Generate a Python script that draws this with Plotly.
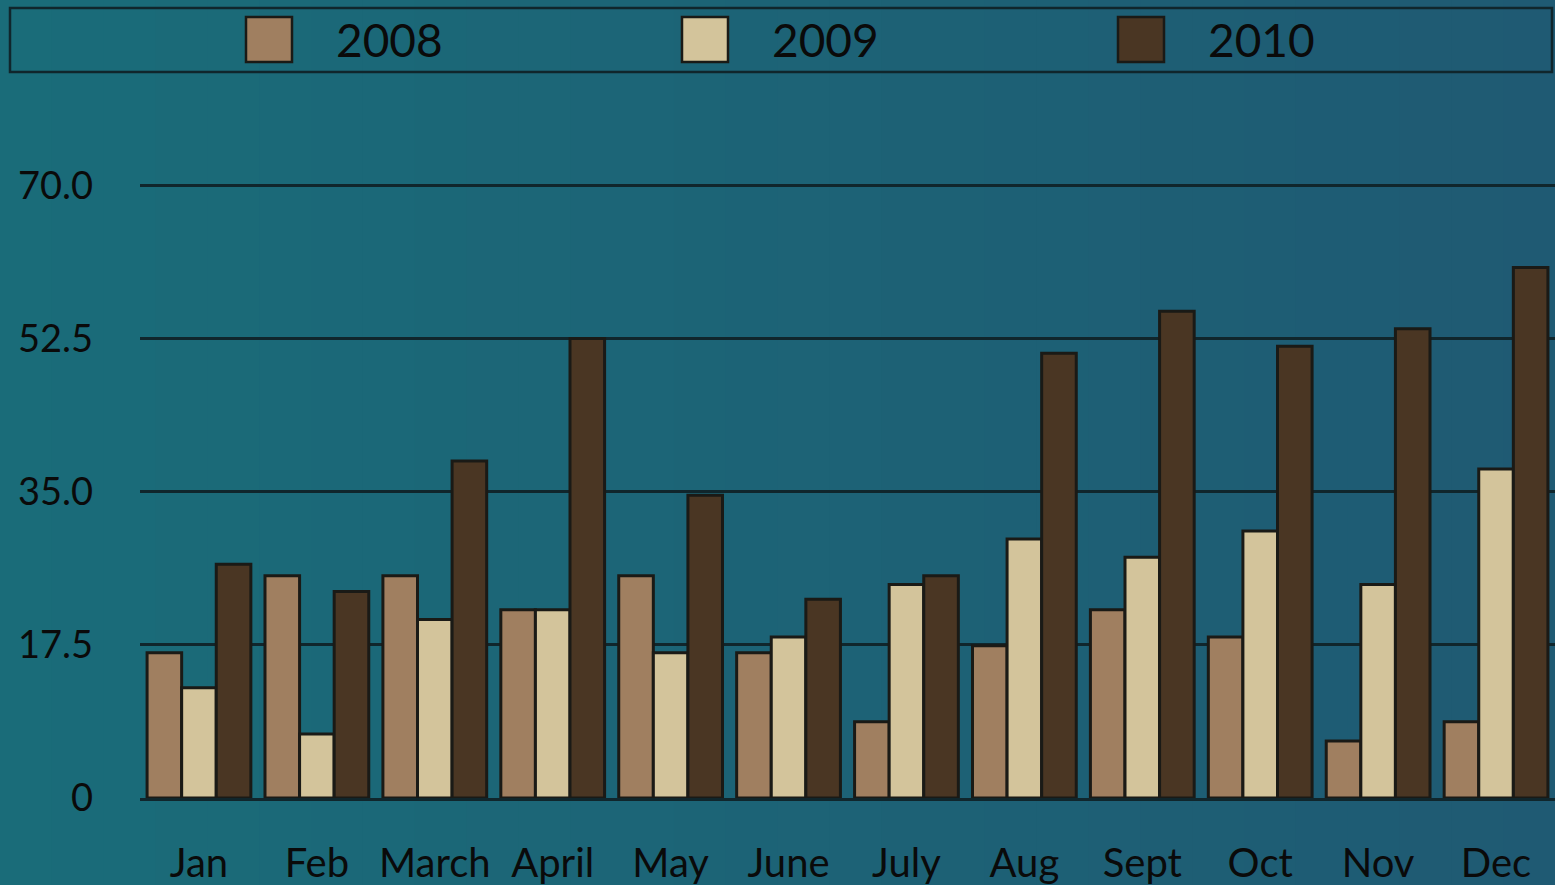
import plotly.graph_objects as go

months = ["Jan", "Feb", "March", "April", "May", "June", "July", "Aug", "Sept", "Oct", "Nov", "Dec"]
years = ["2008", "2009", "2010"]
v2008 = [16.6, 25.4, 25.4, 21.5, 25.4, 16.6, 8.7, 17.4, 21.5, 18.4, 6.5, 8.7]
v2009 = [12.6, 7.3, 20.4, 21.5, 16.6, 18.4, 24.4, 29.6, 27.5, 30.5, 24.4, 37.6]
v2010 = [26.7, 23.6, 38.5, 52.5, 34.6, 22.7, 25.4, 50.8, 55.6, 51.6, 53.6, 60.6]
tick_vals = [0, 17.5, 35, 52.5, 70]
tick_text = ["0", "17.5", "35.0", "52.5", "70.0"]
colors = ["#a07f60", "#d3c49b", "#4a3623"]

W, H = 1555, 885
L, R, T, B = 140, 0, 184, 87
pw, ph = W - L - R, H - T - B

def px(x):
    return (x - L) / pw

def py(y):
    return (H - B - y) / ph

fig = go.Figure()
for name, vals, c in zip(years, [v2008, v2009, v2010], colors):
    fig.add_trace(go.Bar(x=months, y=vals, name=name, marker=dict(color=c, line=dict(color="#1a1a16", width=3))))

font = "Lato, 'Open Sans', sans-serif"
shapes = []
# background gradient bands
left = (26, 108, 121)
right = (31, 90, 115)
n = 30
for i in range(n):
    t = i / (n - 1)
    col = tuple(round(left[k] + (right[k] - left[k]) * t) for k in range(3))
    shapes.append(dict(type="rect", xref="paper", yref="paper", layer="below",
                       x0=px(i * W / n), x1=px((i + 1) * W / n + 1), y0=py(H), y1=py(0),
                       fillcolor="rgb(%d,%d,%d)" % col, line=dict(width=0)))
# legend box
shapes.append(dict(type="rect", xref="paper", yref="paper", x0=px(10), x1=px(1552), y0=py(72), y1=py(8),
                   line=dict(color="#10262c", width=2.5), fillcolor="rgba(0,0,0,0)"))
annotations = []
sq_x = [246, 682, 1118]
for sx, name, c in zip(sq_x, years, colors):
    shapes.append(dict(type="rect", xref="paper", yref="paper", x0=px(sx), x1=px(sx + 46), y0=py(62), y1=py(17),
                       line=dict(color="#1a1a16", width=2.5), fillcolor=c))
    annotations.append(dict(xref="paper", yref="paper", x=px(sx + 88), y=py(40), text=name, showarrow=False,
                            xanchor="left", yanchor="middle", font=dict(family=font, size=46, color="#0a0a0a")))

fig.update_layout(
    width=W, height=H,
    margin=dict(l=L, r=R, t=T, b=B),
    paper_bgcolor="#1c6676", plot_bgcolor="rgba(0,0,0,0)",
    barmode="group", bargap=0.12, bargroupgap=0,
    showlegend=False,
    shapes=shapes, annotations=annotations,
    font=dict(family=font, color="#0a0a0a"),
)
fig.update_xaxes(showgrid=False, showline=True, linecolor="#10262c", linewidth=2.5,
                 tickfont=dict(size=40, family=font, color="#0a0a0a"), ticks="", ticklabelstandoff=28)
fig.update_yaxes(range=[0, 70.15], tickvals=tick_vals, ticktext=tick_text, showgrid=True, gridcolor="#10262c",
                 gridwidth=2.5, zeroline=False, showline=False,
                 tickfont=dict(size=38, family=font, color="#0a0a0a"), ticks="", ticklabelstandoff=46)
fig.write_html("out.html", config={"displayModeBar": False},
               post_script="document.body.style.margin='0px';document.body.style.background='#1c6676';")
